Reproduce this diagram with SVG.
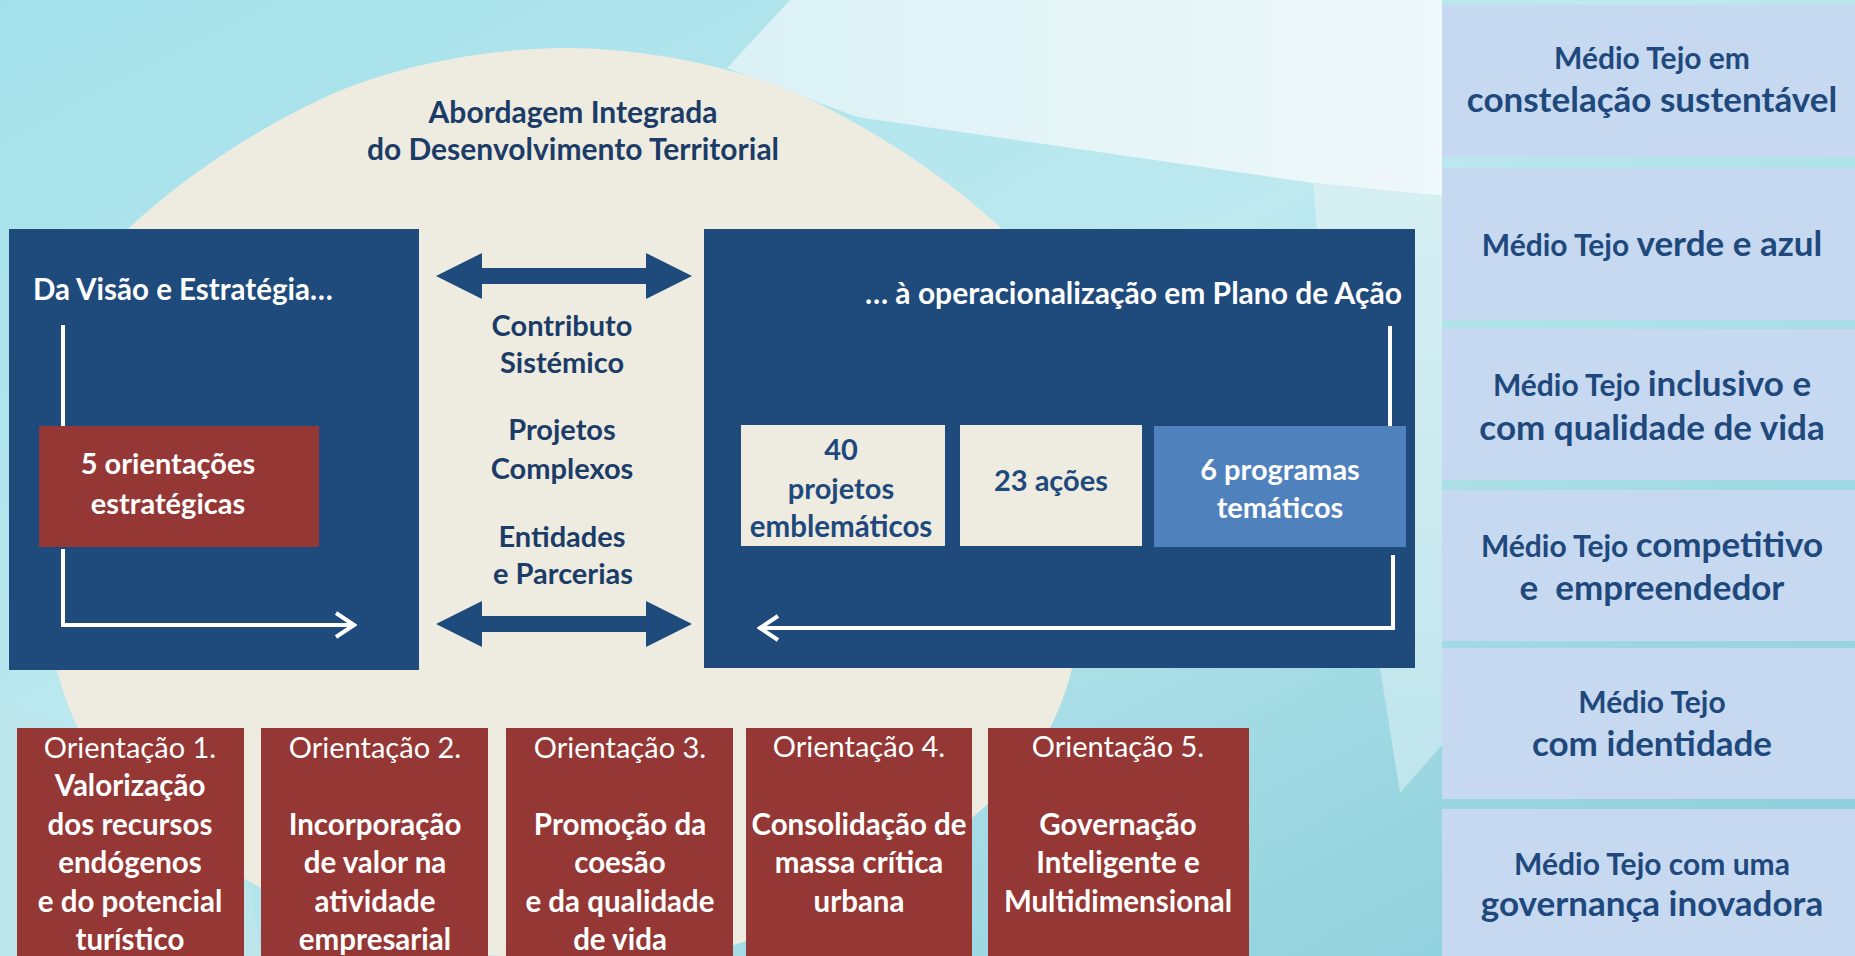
<svg xmlns="http://www.w3.org/2000/svg" width="1855" height="956" viewBox="0 0 1855 956">
<defs>
<linearGradient id="bg" x1="0" y1="0" x2="1" y2="1">
<stop offset="0" stop-color="#a3e0ea"/>
<stop offset="0.45" stop-color="#bde9ef"/>
<stop offset="1" stop-color="#86cbd8"/>
</linearGradient>
<linearGradient id="lite" x1="0" y1="0" x2="1" y2="0">
<stop offset="0" stop-color="#daf1f5"/>
<stop offset="1" stop-color="#eff8fa"/>
</linearGradient>
<linearGradient id="right" x1="0" y1="0" x2="0" y2="1">
<stop offset="0" stop-color="#d6eff3"/>
<stop offset="1" stop-color="#bfe5ec"/>
</linearGradient>
<marker id="chev" viewBox="0 0 24 30" refX="21" refY="15" markerWidth="24" markerHeight="30" markerUnits="userSpaceOnUse" orient="auto">
<polyline points="3,3 21,15 3,27" fill="none" stroke="#fff" stroke-width="4"/>
</marker>
<style>
.bold{font-family:Lato,"Open Sans","Liberation Sans",sans-serif;font-weight:700}
.reg{font-family:Lato,"Open Sans","Liberation Sans",sans-serif;font-weight:400}
.dark{fill:#1c3c68}
.navy{fill:#1f497d}
.white{fill:#ffffff}
.blue{fill:#1f4a7c}
.red{fill:#953735}
.beige{fill:#eeece1}
.panel{fill:#c6d9f0}
.wline{fill:none;stroke:#ffffff;stroke-width:4}
.darr{fill:#1f4a7c}
</style>
</defs>
<!-- background -->
<rect width="1855" height="956" fill="url(#bg)"/>
<polygon points="790,0 1442,0 1442,196 1313,183 857,117 727,68" fill="url(#lite)"/>
<polygon points="1313,183 1442,196 1442,745 1400,793 1380,668 1317,229" fill="url(#right)"/>
<polygon points="0,700 60,722 250,890 262,956 0,956" fill="#bce5ec"/>
<!-- beige shape -->
<path d="M565,48 C642,48 740,66 811,100 C880,133 950,180 1002,229 C1050,274 1085,400 1085,540 C1085,620 1075,680 1050,728 C1010,805 880,900 740,943 C680,962 450,962 390,943 C250,900 120,805 78,728 C55,680 42,620 42,540 C42,400 80,274 128,229 C180,180 250,133 319,100 C390,66 488,48 565,48 Z" class="beige"/>

<g id="title">
<text class="bold dark" font-size="30" text-anchor="middle" x="573" y="123">Abordagem Integrada</text>
<text class="bold dark" font-size="30" text-anchor="middle" x="573" y="160">do Desenvolvimento Territorial</text>
</g>

<g id="node-visao">
<rect x="9" y="229" width="410" height="441" class="blue"/>
<text class="bold white" font-size="29.5" x="33" y="300">Da Visão e Estratégia…</text>
</g>

<g id="node-operacionalizacao">
<rect x="704" y="229" width="711" height="439" class="blue"/>
<text class="bold white" font-size="30" text-anchor="end" x="1402" y="304">… à operacionalização em Plano de Ação</text>
</g>

<g id="connectors">
<polyline class="wline" points="63,325 63,430"/>
<polyline class="wline" points="63,549 63,625 354,625" marker-end="url(#chev)"/>
<polyline class="wline" points="1390,326 1390,431"/>
<polyline class="wline" points="1393,555 1393,628 760,628" marker-end="url(#chev)"/>
<polygon class="darr" points="436,276 482,253 482,268 646,268 646,253 692,276 646,299 646,284 482,284 482,299"/>
<polygon class="darr" points="436,624 482,601 482,616 646,616 646,601 692,624 646,647 646,632 482,632 482,647"/>
</g>

<g id="node-orientacoes">
<rect x="39" y="426" width="280" height="121" class="red"/>
<text class="bold white" font-size="29" text-anchor="middle" x="168" y="474">5 orientações</text>
<text class="bold white" font-size="29" text-anchor="middle" x="168" y="514">estratégicas</text>
</g>

<g id="labels-middle">
<text class="bold dark" font-size="29" text-anchor="middle" x="562" y="336">Contributo</text>
<text class="bold dark" font-size="29" text-anchor="middle" x="562" y="373">Sistémico</text>
<text class="bold dark" font-size="29" text-anchor="middle" x="562" y="440">Projetos</text>
<text class="bold dark" font-size="29" text-anchor="middle" x="562" y="479">Complexos</text>
<text class="bold dark" font-size="29" text-anchor="middle" x="562" y="547">Entidades</text>
<text class="bold dark" font-size="29" text-anchor="middle" x="563" y="584">e Parcerias</text>
</g>

<g id="node-projetos">
<rect x="741" y="425" width="204" height="121" class="beige"/>
<text class="bold navy" font-size="29" text-anchor="middle" x="841" y="460">40</text>
<text class="bold navy" font-size="29" text-anchor="middle" x="841" y="499">projetos</text>
<text class="bold navy" font-size="29.5" text-anchor="middle" x="841" y="537">emblemáticos</text>
</g>

<g id="node-acoes">
<rect x="960" y="425" width="182" height="121" class="beige"/>
<text class="bold navy" font-size="29" text-anchor="middle" x="1051" y="491">23 ações</text>
</g>

<g id="node-programas">
<rect x="1154" y="426" width="252" height="121" fill="#4f81bd"/>
<text class="bold white" font-size="29" text-anchor="middle" x="1280" y="480">6 programas</text>
<text class="bold white" font-size="29" text-anchor="middle" x="1280" y="518">temáticos</text>
</g>

<g id="node-orientacao-1">
<rect x="17" y="728" width="227" height="240" class="red"/>
<text class="reg white" font-size="29" text-anchor="middle" x="130" y="758">Orientação 1.</text>
<text class="bold white" font-size="29.5" text-anchor="middle" x="130" y="796">Valorização</text>
<text class="bold white" font-size="29.5" text-anchor="middle" x="130" y="835">dos recursos</text>
<text class="bold white" font-size="29.5" text-anchor="middle" x="130" y="873">endógenos</text>
<text class="bold white" font-size="29.5" text-anchor="middle" x="130" y="912">e do potencial</text>
<text class="bold white" font-size="29.5" text-anchor="middle" x="130" y="950">turístico</text>
</g>

<g id="node-orientacao-2">
<rect x="261" y="728" width="227" height="240" class="red"/>
<text class="reg white" font-size="29" text-anchor="middle" x="375" y="758">Orientação 2.</text>
<text class="bold white" font-size="29.5" text-anchor="middle" x="375" y="835">Incorporação</text>
<text class="bold white" font-size="29.5" text-anchor="middle" x="375" y="873">de valor na</text>
<text class="bold white" font-size="29.5" text-anchor="middle" x="375" y="912">atividade</text>
<text class="bold white" font-size="29.5" text-anchor="middle" x="375" y="950">empresarial</text>
</g>

<g id="node-orientacao-3">
<rect x="506" y="728" width="227" height="240" class="red"/>
<text class="reg white" font-size="29" text-anchor="middle" x="620" y="758">Orientação 3.</text>
<text class="bold white" font-size="29.5" text-anchor="middle" x="620" y="835">Promoção da</text>
<text class="bold white" font-size="29.5" text-anchor="middle" x="620" y="873">coesão</text>
<text class="bold white" font-size="29.5" text-anchor="middle" x="620" y="912">e da qualidade</text>
<text class="bold white" font-size="29.5" text-anchor="middle" x="620" y="950">de vida</text>
</g>

<g id="node-orientacao-4">
<rect x="746" y="728" width="226" height="240" class="red"/>
<text class="reg white" font-size="29" text-anchor="middle" x="859" y="757">Orientação 4.</text>
<text class="bold white" font-size="29.5" text-anchor="middle" x="859" y="835">Consolidação de</text>
<text class="bold white" font-size="29.5" text-anchor="middle" x="859" y="873">massa crítica</text>
<text class="bold white" font-size="29.5" text-anchor="middle" x="859" y="912">urbana</text>
</g>

<g id="node-orientacao-5">
<rect x="988" y="728" width="261" height="240" class="red"/>
<text class="reg white" font-size="29" text-anchor="middle" x="1118" y="757">Orientação 5.</text>
<text class="bold white" font-size="29.5" text-anchor="middle" x="1118" y="835">Governação</text>
<text class="bold white" font-size="29.5" text-anchor="middle" x="1118" y="873">Inteligente e</text>
<text class="bold white" font-size="29.5" text-anchor="middle" x="1118" y="912">Multidimensional</text>
</g>

<g id="panel-1">
<rect x="1442" y="5" width="413" height="152" class="panel"/>
<text class="bold navy" font-size="30" text-anchor="middle" x="1652" y="69">Médio Tejo em</text>
<text class="bold navy" font-size="35" text-anchor="middle" x="1652" y="112">constelação sustentável</text>
</g>
<g id="panel-2">
<rect x="1442" y="168" width="413" height="152" class="panel"/>
<text class="bold navy" text-anchor="middle" x="1652" y="256"><tspan font-size="30">Médio Tejo </tspan><tspan font-size="35">verde e azul</tspan></text>
</g>
<g id="panel-3">
<rect x="1442" y="329" width="413" height="151" class="panel"/>
<text class="bold navy" text-anchor="middle" x="1652" y="396"><tspan font-size="30">Médio Tejo </tspan><tspan font-size="35">inclusivo e</tspan></text>
<text class="bold navy" font-size="35" text-anchor="middle" x="1652" y="440">com qualidade de vida</text>
</g>
<g id="panel-4">
<rect x="1442" y="490" width="413" height="151" class="panel"/>
<text class="bold navy" text-anchor="middle" x="1652" y="557"><tspan font-size="30">Médio Tejo </tspan><tspan font-size="35">competitivo</tspan></text>
<text class="bold navy" font-size="35" text-anchor="middle" x="1652" y="600" xml:space="preserve">e  empreendedor</text>
</g>
<g id="panel-5">
<rect x="1442" y="648" width="413" height="151" class="panel"/>
<text class="bold navy" font-size="30" text-anchor="middle" x="1652" y="713">Médio Tejo</text>
<text class="bold navy" font-size="35" text-anchor="middle" x="1652" y="756">com identidade</text>
</g>
<g id="panel-6">
<rect x="1442" y="809" width="413" height="147" class="panel"/>
<text class="bold navy" font-size="30" text-anchor="middle" x="1652" y="875">Médio Tejo com uma</text>
<text class="bold navy" font-size="35" text-anchor="middle" x="1652" y="916">governança inovadora</text>
</g>
</svg>
